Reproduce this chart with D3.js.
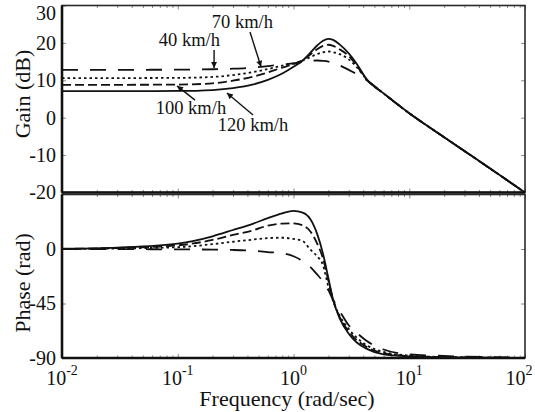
<!DOCTYPE html>
<html>
<head>
<meta charset="utf-8">
<script src="https://cdn.jsdelivr.net/npm/d3@7"></script>
<style>
	body { margin: 0; background: #fff; }
	text { font-family: "Liberation Serif", "Times New Roman", serif; fill: #111; }
</style>
</head>
<body>
<svg id="chart" width="535" height="412"></svg>
<script>
// frequencies (rad/sec) the curves were read at
const freq = [0.01, 0.03, 0.1, 0.2, 0.3, 0.45, 0.6, 0.8, 1.0, 1.2, 1.4, 1.6, 1.8, 2.0, 2.2, 2.5, 3.0, 3.5, 4.3, 6, 10, 20, 50, 100];

// gain (dB)
const gain40  = [12.8, 12.8, 12.85, 12.95, 13.1, 13.4, 13.8, 14.2, 14.5, 14.9, 15.2, 15.3, 15.2, 15.0, 14.6, 14.0, 12.8, 11.7, 10.0, 6.5, 1.2, -5.2, -13.6, -20];
const gain70  = [10.6, 10.6, 10.65, 10.9, 11.4, 12.2, 13.0, 13.9, 14.5, 15.3, 16.2, 17.0, 17.5, 17.7, 17.5, 17.0, 15.6, 13.6, 10.2, 6.5, 1.2, -5.2, -13.6, -20];
const gain100 = [8.8, 8.8, 8.85, 9.2, 9.9, 11.0, 12.1, 13.4, 14.3, 15.4, 16.9, 18.3, 19.2, 19.5, 19.2, 18.3, 16.5, 14.0, 10.2, 6.5, 1.2, -5.2, -13.6, -20];
const gain120 = [7.1, 7.1, 7.15, 7.4, 7.9, 8.9, 10.1, 11.8, 13.6, 15.3, 17.4, 19.3, 20.6, 21.1, 20.8, 19.6, 17.2, 14.5, 10.2, 6.5, 1.2, -5.2, -13.6, -20];

// phase
const phase40  = [0, -0.1, -0.3, -0.5, -0.8, -1.5, -2.5, -3.5, -6, -10, -15, -21, -27, -34, -42, -51, -63, -69, -76, -83, -87, -88.3, -89.3, -89.7];
const phase70  = [0, 0.4, 1.5, 4, 6, 7.8, 9, 9.3, 8.3, 6.5, -0.5, -6, -13.5, -31, -43, -55, -66, -73, -79.5, -85, -88, -89.2, -89.7, -89.9];
const phase100 = [0.1, 0.8, 3, 7.5, 11.6, 15.5, 19.3, 21, 21.2, 19.5, 14.5, 4.5, -8, -26, -42, -56, -68, -75, -81, -86, -88.4, -89.3, -89.8, -89.9];
const phase120 = [0.2, 1.2, 4.5, 10.5, 15.7, 21, 25.5, 29.5, 31.4, 30, 24.5, 12.5, -4, -24, -42, -57, -70, -77, -82.5, -87, -88.6, -89.4, -89.8, -89.9];

const gainTicks = [30, 20, 10, 0, -10, -20];
const phaseTicks = [0, -45, -90];
const decades = [0.01, 0.1, 1, 10, 100];
const decadeExp = ["-2", "-1", "0", "1", "2"];

const series = [
	{ name: "40 km/h",  gain: gain40,  phase: phase40,  dash: "16,12" },
	{ name: "70 km/h",  gain: gain70,  phase: phase70,  dash: "2.5,3" },
	{ name: "100 km/h", gain: gain100, phase: phase100, dash: "9,4" },
	{ name: "120 km/h", gain: gain120, phase: phase120, dash: null }
];

// labels on the gain plot, in data units (freq, dB)
const notes = [
	{ text: "70 km/h",  at: [0.362, 24.0], from: [0.421, 22.9], to: [0.524, 13.6] },
	{ text: "40 km/h",  at: [0.126, 19.2], from: [0.206, 18.1], to: [0.206, 13.3] },
	{ text: "100 km/h", at: [0.130, 1.0],  from: [0.141, 4.7],  to: [0.0986, 8.5] },
	{ text: "120 km/h", at: [0.447, -3.6], from: [0.447, 0.7],  to: [0.266, 6.6] }
];

const serif = '"Liberation Serif", "Times New Roman", serif';
const svg = d3.select("#chart");

const x = d3.scaleLog().domain([0.01, 100]).range([62, 525]);
const yGain = d3.scaleLinear().domain([-20, 30]).range([192.5, 5.5]);
const yPhase = d3.scaleLinear().domain([-90, 45]).range([358, 194.5]);

const isDecade = v => Math.abs(Math.log10(v) - Math.round(Math.log10(v))) < 1e-6;
const minor = x.ticks().filter(v => !isDecade(v));

svg.append("defs").append("marker")
	.attr("id", "head")
	.attr("viewBox", "0 0 10 10")
	.attr("refX", 10).attr("refY", 5)
	.attr("markerUnits", "userSpaceOnUse")
	.attr("markerWidth", 10).attr("markerHeight", 6)
	.attr("orient", "auto")
	.append("path").attr("d", "M0,0L10,5L0,10z").attr("fill", "#111");

function grayTicks(sel) {
	sel.attr("font-family", serif);
	sel.select(".domain").remove();
	sel.selectAll(".tick line").attr("stroke", "#888").attr("stroke-width", 1);
}

function panel(y, ticks, title, titleY) {
	const [x0, x1] = x.range();
	const [yb, yt] = y.range();
	const g = svg.append("g");

	// inside ticks, top and bottom edges
	[[d3.axisBottom, yb], [d3.axisTop, yt]].forEach(([ax, pos]) => {
		g.append("g").attr("transform", `translate(0,${pos})`)
			.call(ax(x).tickValues(minor).tickSize(-2.5).tickFormat(""))
			.call(grayTicks);
		g.append("g").attr("transform", `translate(0,${pos})`)
			.call(ax(x).tickValues(decades).tickSize(-4).tickFormat(""))
			.call(grayTicks);
	});

	const left = g.append("g").attr("transform", `translate(${x0},0)`)
		.call(d3.axisLeft(y).tickValues(ticks).tickSize(-4).tickPadding(6).tickFormat(d => String(d)))
		.call(grayTicks);
	left.selectAll(".tick text").attr("font-size", 20).attr("fill", "#111");

	g.append("g").attr("transform", `translate(${x1},0)`)
		.call(d3.axisRight(y).tickValues(ticks).tickSize(-4).tickFormat(""))
		.call(grayTicks);

	// frame
	g.append("rect")
		.attr("x", x0).attr("y", yt)
		.attr("width", x1 - x0).attr("height", yb - yt)
		.attr("fill", "none").attr("stroke", "#2a2a2a").attr("stroke-width", 1.6);
	g.append("line").attr("x1", x0).attr("x2", x0).attr("y1", yt).attr("y2", yb)
		.attr("stroke", "#111").attr("stroke-width", 2.6);
	g.append("line").attr("x1", x0).attr("x2", x1).attr("y1", yb).attr("y2", yb)
		.attr("stroke", "#111").attr("stroke-width", 2.4);

	g.append("text")
		.attr("transform", `translate(22,${titleY}) rotate(-90)`)
		.attr("text-anchor", "middle").attr("dy", "0.35em")
		.attr("font-size", 22)
		.text(title);
	return left;
}

const gainAxis = panel(yGain, gainTicks, "Gain (dB)", 94);
// the top label sits a little below its tick in the original
gainAxis.selectAll(".tick").filter(d => d === 30).select("text").attr("dy", "0.7em");
panel(yPhase, phaseTicks, "Phase (rad)", 283);

function drawCurves(y, key) {
	const line = d3.line()
		.x((d, i) => x(freq[i]))
		.y(d => y(d))
		.curve(d3.curveMonotoneX);
	svg.append("g").selectAll("path")
		.data(series)
		.join("path")
		.attr("d", s => line(s[key]))
		.attr("fill", "none")
		.attr("stroke", "#111")
		.attr("stroke-width", 1.8)
		.attr("stroke-dasharray", s => s.dash);
}
drawCurves(yGain, "gain");
drawCurves(yPhase, "phase");

// annotations
const ann = svg.append("g");
ann.selectAll("line")
	.data(notes)
	.join("line")
	.attr("x1", d => x(d.from[0])).attr("y1", d => yGain(d.from[1]))
	.attr("x2", d => x(d.to[0])).attr("y2", d => yGain(d.to[1]))
	.attr("stroke", "#111").attr("stroke-width", 1.4)
	.attr("marker-end", "url(#head)");
ann.selectAll("text")
	.data(notes)
	.join("text")
	.attr("x", d => x(d.at[0])).attr("y", d => yGain(d.at[1]))
	.attr("text-anchor", "middle")
	.attr("font-size", 18.5)
	.text(d => d.text);

// x tick labels, 10 with exponent; the last one is pulled in so it stays on the page
const xl = svg.append("g").selectAll("text")
	.data(decades)
	.join("text")
	.attr("x", (d, i) => x(d) - (i === decades.length - 1 ? 6 : 0)).attr("y", 385)
	.attr("text-anchor", "middle")
	.attr("font-size", 20)
	.text("10");
xl.append("tspan")
	.attr("dy", -10).attr("font-size", 14)
	.text((d, i) => decadeExp[i]);

svg.append("text")
	.attr("x", 287).attr("y", 406)
	.attr("text-anchor", "middle")
	.attr("font-size", 22)
	.text("Frequency (rad/sec)");
</script>
</body>
</html>
